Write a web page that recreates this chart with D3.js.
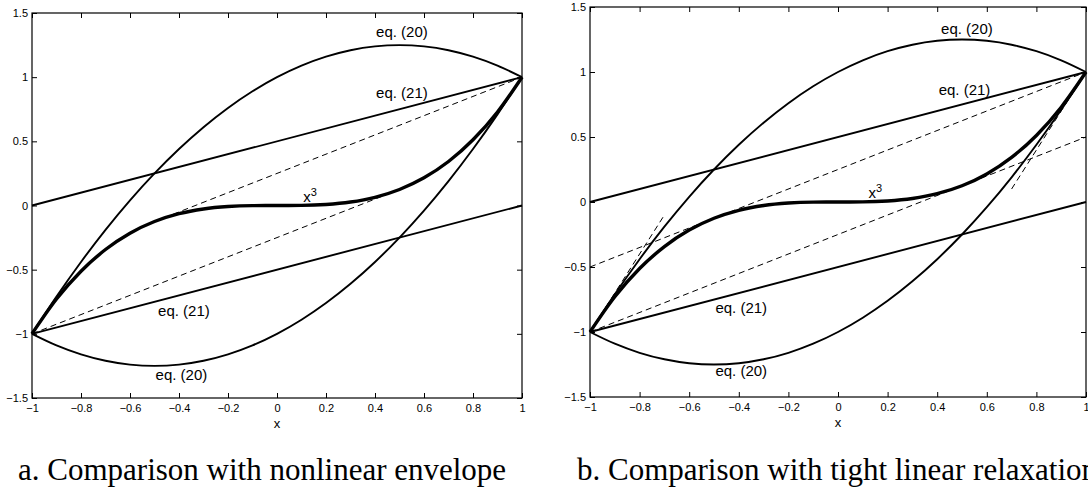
<!DOCTYPE html>
<html lang="en">
<head>
    <meta charset="UTF-8">
    <script src="https://cdn.jsdelivr.net/npm/d3@7"></script>
    <title>x^3 relaxations</title>
    <style>
        body { margin: 0; background: #fff; }
        svg { display: block; }
        .tick text { font-family: "Liberation Sans", Arial, Helvetica, sans-serif; font-size: 11px; fill: #000; }
        .tick line { stroke: #000; }
        .note { font-family: "Liberation Sans", Arial, Helvetica, sans-serif; font-size: 15px; fill: #000; }
        .caption { font-family: "Liberation Serif", "Times New Roman", serif; font-size: 31px; fill: #000; }
    </style>
</head>
<body>
<svg id="chart" width="1088" height="500"></svg>
<script>
    // values (x from -1 to 1, step 0.1)
    const xGrid = [-1, -0.9, -0.8, -0.7, -0.6, -0.5, -0.4, -0.3, -0.2, -0.1, 0,
                   0.1, 0.2, 0.3, 0.4, 0.5, 0.6, 0.7, 0.8, 0.9, 1];
    const cubeY = [-1, -0.729, -0.512, -0.343, -0.216, -0.125, -0.064, -0.027, -0.008, -0.001, 0,
                   0.001, 0.008, 0.027, 0.064, 0.125, 0.216, 0.343, 0.512, 0.729, 1];
    const eq20Upper = [-1, -0.71, -0.44, -0.19, 0.04, 0.25, 0.44, 0.61, 0.76, 0.89, 1,
                       1.09, 1.16, 1.21, 1.24, 1.25, 1.24, 1.21, 1.16, 1.09, 1];
    const eq20Lower = [-1, -1.09, -1.16, -1.21, -1.24, -1.25, -1.24, -1.21, -1.16, -1.09, -1,
                       -0.89, -0.76, -0.61, -0.44, -0.25, -0.04, 0.19, 0.44, 0.71, 1];

    // straight segments as [x, y] end points
    const eq21Upper = [[-1, 0], [1, 1]];
    const eq21Lower = [[-1, -1], [1, 0]];
    const envUpper = [[-0.5, -0.125], [1, 1]];
    const envLower = [[-1, -1], [0.5, 0.125]];
    const tightUpper = [[-1, -0.5], [1, 1]];
    const tightLower = [[-1, -1], [1, 0.5]];
    const tangentLeft = [[-1, -1], [-0.7, -0.1]];
    const tangentRight = [[0.7, 0.1], [1, 1]];

    const xTicks = [-1, -0.8, -0.6, -0.4, -0.2, 0, 0.2, 0.4, 0.6, 0.8, 1];
    const yTicks = [-1.5, -1, -0.5, 0, 0.5, 1, 1.5];

    const captions = ["a. Comparison with nonlinear envelope", "b. Comparison with tight linear relaxation"];

    const svg = d3.select("#chart");
    const fmt = d3.format("~g");

    function toPoints(ys) { return xGrid.map((x, i) => [x, ys[i]]); }

    function drawPanel(box, dashedSets, labels) {
        const x = d3.scaleLinear().domain([-1, 1]).range([box.left, box.right]);
        const y = d3.scaleLinear().domain([-1.5, 1.5]).range([box.bottom, box.top]);
        const g = svg.append("g");

        const line = d3.line().x(d => x(d[0])).y(d => y(d[1])).curve(d3.curveMonotoneX);

        // dashed envelopes / relaxations
        dashedSets.forEach(seg => {
            g.append("path").attr("d", line(seg))
                .attr("fill", "none").attr("stroke", "#000").attr("stroke-width", 1)
                .attr("stroke-dasharray", "6,4");
        });

        [eq20Upper, eq20Lower].forEach(ys => {
            g.append("path").attr("d", line(toPoints(ys)))
                .attr("fill", "none").attr("stroke", "#000").attr("stroke-width", 1.9);
        });
        [eq21Upper, eq21Lower].forEach(seg => {
            g.append("path").attr("d", line(seg))
                .attr("fill", "none").attr("stroke", "#000").attr("stroke-width", 1.9);
        });

        g.append("path").attr("d", line(toPoints(cubeY)))
            .attr("fill", "none").attr("stroke", "#000").attr("stroke-width", 3.4);

        // axes, ticks inward on all four sides
        g.append("g").attr("transform", `translate(0,${box.bottom})`)
            .call(d3.axisBottom(x).tickValues(xTicks).tickFormat(fmt).tickSizeInner(-5).tickSizeOuter(0).tickPadding(6))
            .call(a => a.select(".domain").remove());
        g.append("g").attr("transform", `translate(0,${box.top})`)
            .call(d3.axisTop(x).tickValues(xTicks).tickFormat("").tickSizeInner(-5).tickSizeOuter(0))
            .call(a => a.select(".domain").remove());
        g.append("g").attr("transform", `translate(${box.left},0)`)
            .call(d3.axisLeft(y).tickValues(yTicks).tickFormat(fmt).tickSizeInner(-5).tickSizeOuter(0).tickPadding(4))
            .call(a => a.select(".domain").remove());
        g.append("g").attr("transform", `translate(${box.right},0)`)
            .call(d3.axisRight(y).tickValues(yTicks).tickFormat("").tickSizeInner(-5).tickSizeOuter(0))
            .call(a => a.select(".domain").remove());

        g.append("rect")
            .attr("x", box.left).attr("y", box.top)
            .attr("width", box.right - box.left).attr("height", box.bottom - box.top)
            .attr("fill", "none").attr("stroke", "#000").attr("stroke-width", 1.2);

        g.append("text").attr("class", "note")
            .attr("x", x(0)).attr("y", box.bottom + 30)
            .attr("text-anchor", "middle").style("font-size", "13px").text("x");

        labels.forEach(l => {
            const t = g.append("text").attr("class", "note")
                .attr("x", x(l.x)).attr("y", y(l.y)).attr("text-anchor", "middle");
            if (l.sup) {
                t.append("tspan").text(l.text);
                t.append("tspan").attr("dy", -6).style("font-size", "11px").text(l.sup);
            } else {
                t.text(l.text);
            }
        });
    }

    drawPanel({ left: 32, right: 522, top: 13, bottom: 398 },
        [envUpper, envLower],
        [
            { text: "eq. (20)", x: 0.51, y: 1.31 },
            { text: "eq. (21)", x: 0.51, y: 0.84 },
            { text: "x", sup: "3", x: 0.135, y: 0.03 },
            { text: "eq. (21)", x: -0.38, y: -0.86 },
            { text: "eq. (20)", x: -0.39, y: -1.36 }
        ]);

    drawPanel({ left: 590, right: 1086, top: 7, bottom: 397 },
        [tightUpper, tightLower, tangentLeft, tangentRight],
        [
            { text: "eq. (20)", x: 0.52, y: 1.29 },
            { text: "eq. (21)", x: 0.51, y: 0.82 },
            { text: "x", sup: "3", x: 0.15, y: 0.03 },
            { text: "eq. (21)", x: -0.39, y: -0.85 },
            { text: "eq. (20)", x: -0.39, y: -1.34 }
        ]);

    svg.append("text").attr("class", "caption").attr("x", 18).attr("y", 480).text(captions[0]);
    svg.append("text").attr("class", "caption").attr("x", 577).attr("y", 480).text(captions[1]);
</script>
</body>
</html>
